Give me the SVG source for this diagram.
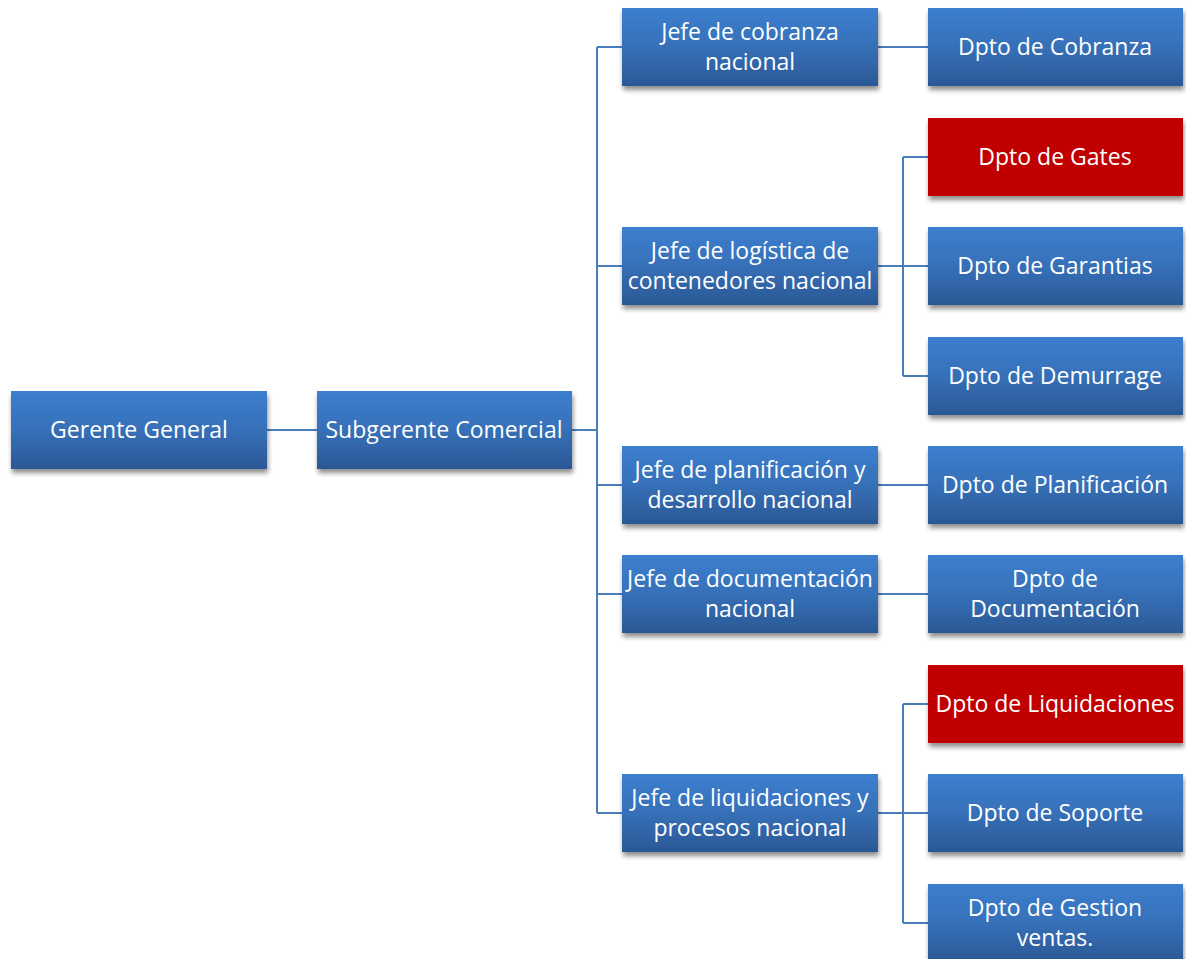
<svg xmlns="http://www.w3.org/2000/svg" width="1186" height="959" viewBox="0 0 1186 959">
  <defs>
    <linearGradient id="blueFill" x1="0" y1="0" x2="0" y2="1">
      <stop offset="0" stop-color="#3c7fcf"/>
      <stop offset="0.5" stop-color="#3670b8"/>
      <stop offset="1" stop-color="#2b5895"/>
    </linearGradient>
    <filter id="shadow" x="-10%" y="-10%" width="125%" height="140%">
      <feGaussianBlur in="SourceAlpha" stdDeviation="2.5"/>
      <feOffset dx="1" dy="4" result="b"/>
      <feComponentTransfer><feFuncA type="linear" slope="0.45"/></feComponentTransfer>
      <feMerge><feMergeNode/><feMergeNode in="SourceGraphic"/></feMerge>
    </filter>
  </defs>
  <style>
    .box { fill: url(#blueFill); filter: url(#shadow); }
    .red { fill: #c00000; filter: url(#shadow); }
    .lbl { font-family: "Open Sans", "Noto Sans", "Liberation Sans", sans-serif; font-size: 23px; fill: #ffffff; text-anchor: middle; }
    .conn { stroke: #4a7ebb; stroke-width: 2; fill: none; }
  </style>
  <rect width="1186" height="959" fill="#ffffff"/>

  <!-- reporting lines -->
  <g id="connectors">
    <path class="conn" d="M267 430 H317"/>
    <path class="conn" d="M572 430 H597 M597 47 V813 M597 47 H622 M597 266 H622 M597 485 H622 M597 594 H622 M597 813 H622"/>
    <path class="conn" d="M878 47 H928"/>
    <path class="conn" d="M878 266 H928 M903 157 V376 M903 157 H928 M903 376 H928"/>
    <path class="conn" d="M878 485 H928"/>
    <path class="conn" d="M878 594 H928"/>
    <path class="conn" d="M878 813 H928 M903 704 V923 M903 704 H928 M903 923 H928"/>
  </g>

  <g id="gerente-general">
    <rect class="box" x="11" y="391" width="256" height="78"/>
    <text class="lbl" x="139" y="438">Gerente General</text>
  </g>
  <g id="subgerente-comercial">
    <rect class="box" x="317" y="391" width="255" height="78"/>
    <text class="lbl" x="444" y="438">Subgerente Comercial</text>
  </g>

  <g id="jefe-cobranza">
    <rect class="box" x="622" y="8" width="256" height="78"/>
    <text class="lbl" x="750" y="40">Jefe de cobranza</text>
    <text class="lbl" x="750" y="70">nacional</text>
  </g>
  <g id="jefe-logistica">
    <rect class="box" x="622" y="227" width="256" height="78"/>
    <text class="lbl" x="750" y="259">Jefe de logística de</text>
    <text class="lbl" x="750" y="289">contenedores nacional</text>
  </g>
  <g id="jefe-planificacion">
    <rect class="box" x="622" y="446" width="256" height="78"/>
    <text class="lbl" x="750" y="478">Jefe de planificación y</text>
    <text class="lbl" x="750" y="508">desarrollo nacional</text>
  </g>
  <g id="jefe-documentacion">
    <rect class="box" x="622" y="555" width="256" height="78"/>
    <text class="lbl" x="750" y="587">Jefe de documentación</text>
    <text class="lbl" x="750" y="617">nacional</text>
  </g>
  <g id="jefe-liquidaciones">
    <rect class="box" x="622" y="774" width="256" height="78"/>
    <text class="lbl" x="750" y="806">Jefe de liquidaciones y</text>
    <text class="lbl" x="750" y="836">procesos nacional</text>
  </g>

  <g id="dpto-cobranza">
    <rect class="box" x="928" y="8" width="255" height="78"/>
    <text class="lbl" x="1055" y="55">Dpto de Cobranza</text>
  </g>
  <g id="dpto-gates">
    <rect class="red" x="928" y="118" width="255" height="78"/>
    <text class="lbl" x="1055" y="165">Dpto de Gates</text>
  </g>
  <g id="dpto-garantias">
    <rect class="box" x="928" y="227" width="255" height="78"/>
    <text class="lbl" x="1055" y="274">Dpto de Garantias</text>
  </g>
  <g id="dpto-demurrage">
    <rect class="box" x="928" y="337" width="255" height="78"/>
    <text class="lbl" x="1055" y="384">Dpto de Demurrage</text>
  </g>
  <g id="dpto-planificacion">
    <rect class="box" x="928" y="446" width="255" height="78"/>
    <text class="lbl" x="1055" y="493">Dpto de Planificación</text>
  </g>
  <g id="dpto-documentacion">
    <rect class="box" x="928" y="555" width="255" height="78"/>
    <text class="lbl" x="1055" y="587">Dpto de</text>
    <text class="lbl" x="1055" y="617">Documentación</text>
  </g>
  <g id="dpto-liquidaciones">
    <rect class="red" x="928" y="665" width="255" height="78"/>
    <text class="lbl" x="1055" y="712">Dpto de Liquidaciones</text>
  </g>
  <g id="dpto-soporte">
    <rect class="box" x="928" y="774" width="255" height="78"/>
    <text class="lbl" x="1055" y="821">Dpto de Soporte</text>
  </g>
  <g id="dpto-gestion-ventas">
    <rect class="box" x="928" y="884" width="255" height="78"/>
    <text class="lbl" x="1055" y="916">Dpto de Gestion</text>
    <text class="lbl" x="1055" y="946">ventas.</text>
  </g>
</svg>
